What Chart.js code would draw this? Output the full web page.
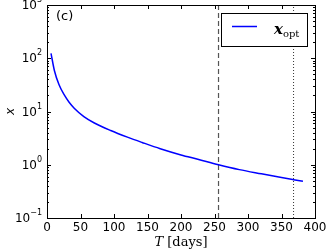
<!DOCTYPE html>
<html>
<head>
<meta charset="utf-8">
<script src="https://cdn.jsdelivr.net/npm/chart.js@4.4.1/dist/chart.umd.min.js"></script>
<style>
  html, body { margin: 0; padding: 0; background: #fff; }
  #wrap { width: 332px; height: 249px; }
</style>
</head>
<body>
<div id="wrap"><canvas id="myChart" width="332" height="249"></canvas></div>
<script>
// 数据 (从图上读出来的)
const days = [6, 11, 18, 26, 33, 41, 55, 70, 95, 120, 142, 169, 200, 225, 256, 287, 320, 350, 368, 382];
const xOpt = [124, 59, 31.7, 20.2, 14.9, 11.4, 8.0, 6.15, 4.4, 3.3, 2.62, 2.0, 1.53, 1.27, 1.0, 0.81, 0.675, 0.575, 0.525, 0.49];
const dashedDay = 256;
const dottedDay = 368;
const xTicks = [0, 50, 100, 150, 200, 250, 300, 350, 400];
const yExps = [-1, 0, 1, 2, 3];

const points = days.map((d, i) => ({ x: d, y: xOpt[i] }));

// 画框、刻度、标签、图例
const decor = {
  id: 'decor',
  afterDraw(chart) {
    const { ctx, chartArea: a, scales } = chart;
    const xs = scales.x, ys = scales.y;
    ctx.save();
    ctx.strokeStyle = '#000';
    ctx.lineWidth = 1;
    ctx.strokeRect(Math.round(a.left) + 0.5, Math.round(a.top) + 0.5,
      Math.round(a.right - a.left), Math.round(a.bottom - a.top));

    // x 主刻度 (朝内)
    ctx.beginPath();
    xTicks.forEach(t => {
      const px = Math.round(xs.getPixelForValue(t)) + 0.5;
      ctx.moveTo(px, a.bottom); ctx.lineTo(px, a.bottom - 4);
      ctx.moveTo(px, a.top); ctx.lineTo(px, a.top + 4);
    });
    // y 主刻度 + 次刻度
    yExps.forEach(e => {
      const py = Math.round(ys.getPixelForValue(Math.pow(10, e))) + 0.5;
      ctx.moveTo(a.left, py); ctx.lineTo(a.left + 4, py);
      ctx.moveTo(a.right, py); ctx.lineTo(a.right - 4, py);
      if (e < 3) {
        for (let m = 2; m <= 9; m++) {
          const pm = Math.round(ys.getPixelForValue(m * Math.pow(10, e))) + 0.5;
          ctx.moveTo(a.left, pm); ctx.lineTo(a.left + 2, pm);
          ctx.moveTo(a.right, pm); ctx.lineTo(a.right - 2, pm);
        }
      }
    });
    ctx.stroke();

    // 刻度标签
    ctx.fillStyle = '#000';
    ctx.font = '12px "DejaVu Sans"';
    ctx.textAlign = 'center';
    ctx.textBaseline = 'top';
    xTicks.forEach(t => ctx.fillText(String(t), xs.getPixelForValue(t), a.bottom + 4));

    yExps.forEach(e => {
      const py = ys.getPixelForValue(Math.pow(10, e));
      const exp = String(e).replace('-', '\u2212');
      ctx.font = '8px "DejaVu Sans"';
      const ew = ctx.measureText(exp).width;
      ctx.font = '12px "DejaVu Sans"';
      const bw = ctx.measureText('10').width;
      const right = a.left - 5;
      ctx.textAlign = 'left';
      ctx.textBaseline = 'middle';
      ctx.fillText('10', right - ew - bw, py + 1);
      ctx.font = '8px "DejaVu Sans"';
      ctx.fillText(exp, right - ew, py - 5);
    });

    // 轴标题
    ctx.textBaseline = 'alphabetic';
    const cx = (a.left + a.right) / 2;
    ctx.font = 'italic 13px "DejaVu Serif"';
    const tw = ctx.measureText('T').width;
    ctx.font = '13px "DejaVu Serif"';
    const dw = ctx.measureText(' [days]').width;
    const x0 = cx - (tw + dw) / 2;
    ctx.textAlign = 'left';
    ctx.font = 'italic 13px "DejaVu Serif"';
    ctx.fillText('T', x0, 246);
    ctx.font = '13px "DejaVu Serif"';
    ctx.fillText(' [days]', x0 + tw, 246);

    ctx.save();
    ctx.translate(14, (a.top + a.bottom) / 2);
    ctx.rotate(-Math.PI / 2);
    ctx.textAlign = 'center';
    ctx.font = 'italic 12px "DejaVu Sans"';
    ctx.fillText('x', 0, 0);
    ctx.restore();

    // (c)
    ctx.textAlign = 'left';
    ctx.textBaseline = 'middle';
    ctx.font = '13px "DejaVu Sans"';
    ctx.fillText('(c)', 56, 17);

    // 图例
    ctx.fillStyle = '#fff';
    ctx.fillRect(221.5, 13.5, 86, 33);
    ctx.strokeStyle = '#000';
    ctx.lineWidth = 1;
    ctx.strokeRect(221.5, 13.5, 86, 33);
    ctx.strokeStyle = '#0000ff';
    ctx.lineWidth = 1.5;
    ctx.beginPath();
    ctx.moveTo(232, 26.5); ctx.lineTo(257, 26.5);
    ctx.stroke();
    ctx.fillStyle = '#000';
    ctx.textBaseline = 'alphabetic';
    ctx.font = 'italic bold 15px "DejaVu Serif"';
    ctx.fillText('x', 274, 34);
    const xw = ctx.measureText('x').width;
    ctx.font = '10px "DejaVu Serif"';
    ctx.fillText('opt', 274 + xw, 37);
    ctx.restore();
  }
};

const ctx = document.getElementById('myChart').getContext('2d');
new Chart(ctx, {
  type: 'scatter',
  data: {
    datasets: [
      {
        label: 'x_opt', data: points, showLine: true, borderColor: '#0000ff',
        borderWidth: 1.5, pointRadius: 0, cubicInterpolationMode: 'monotone'
      },
      {
        label: 'dashed', data: [{ x: dashedDay, y: 0.1 }, { x: dashedDay, y: 1000 }],
        showLine: true, borderColor: '#555', borderWidth: 1.2, borderDash: [5, 3], pointRadius: 0
      },
      {
        label: 'dotted', data: [{ x: dottedDay, y: 0.1 }, { x: dottedDay, y: 1000 }],
        showLine: true, borderColor: '#000', borderWidth: 0.8, borderDash: [1, 2], pointRadius: 0
      }
    ]
  },
  options: {
    responsive: false,
    animation: false,
    layout: { padding: { top: 5, right: 17, left: 0, bottom: 0 } },
    plugins: { legend: { display: false }, tooltip: { enabled: false } },
    scales: {
      x: {
        type: 'linear', min: 0, max: 400,
        grid: { display: false }, border: { display: false },
        ticks: { display: false },
        afterFit(s) { s.height = 31; }
      },
      y: {
        type: 'logarithmic', min: 0.1, max: 1000,
        grid: { display: false }, border: { display: false },
        ticks: { display: false },
        afterFit(s) { s.width = 47; }
      }
    }
  },
  plugins: [decor]
});
</script>
</body>
</html>
